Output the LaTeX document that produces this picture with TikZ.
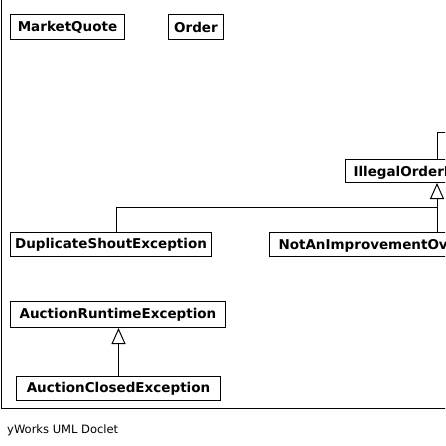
\documentclass[tikz,border=0pt]{standalone}
\usepackage{fontspec}
\setmainfont{DejaVu Sans}
\usetikzlibrary{arrows.meta}
\begin{document}
\begin{tikzpicture}[x=1pt,y=-1pt,
  cls/.style={draw, line width=1pt, font=\fontsize{13.5}{16}\selectfont\bfseries, inner xsep=0pt, inner ysep=0pt, anchor=north west, align=center},
  clsl/.style={draw, line width=1pt, font=\fontsize{13.5}{16}\selectfont\bfseries, inner ysep=0pt, anchor=north west, text depth=0pt},
  conn/.style={line width=1pt},
  gen/.style={line width=1pt, -{Triangle[open, length=16pt, width=14pt]}},
  frame/.style={line width=1pt}]
\useasboundingbox (0,0) rectangle (445,446);
\clip (0,0) rectangle (445,446);
\fill[white] (0,0) rectangle (445,446);
% classes
\node[cls, minimum width=114pt, minimum height=25pt] (mq) at (10,14) {MarketQuote};
\node[cls, minimum width=55pt, minimum height=25pt] (ord) at (168,14) {Order};
\node[clsl, inner xsep=8pt, minimum height=23pt] (ill) at (345,159) {IllegalOrderException};
\node[cls, minimum width=201pt, minimum height=24pt] (dup) at (10,232) {DuplicateShoutException};
\node[clsl, inner xsep=9pt, minimum height=24pt] (na) at (269,232) {NotAnImprovementOverTransactionPriceException};
\node[cls, minimum width=215pt, minimum height=26pt] (ar) at (10,301) {AuctionRuntimeException};
\node[cls, minimum width=204pt, minimum height=24pt] (ac) at (16,376) {AuctionClosedException};
% connectors
\coordinate (dj) at (116,207);
\coordinate (j) at (437,207);
\coordinate (iu) at (460,133);
\draw[conn] (dup.north -| dj) |- (j);
\draw[gen] (na.north -| j) -- (ill.south -| j);
\draw[conn] (ill.north -| j) |- (iu);
\draw[gen] (ac.north) -- (ac.north |- ar.south);
% frame
\draw[frame] (1.5,-5) -- (1.5,408) -- (450,408);
% footer
\node[anchor=west, font=\fontsize{11.5}{14}\selectfont, inner sep=0pt] (foot) at (7,430) {yWorks UML Doclet};
\end{tikzpicture}
\end{document}
